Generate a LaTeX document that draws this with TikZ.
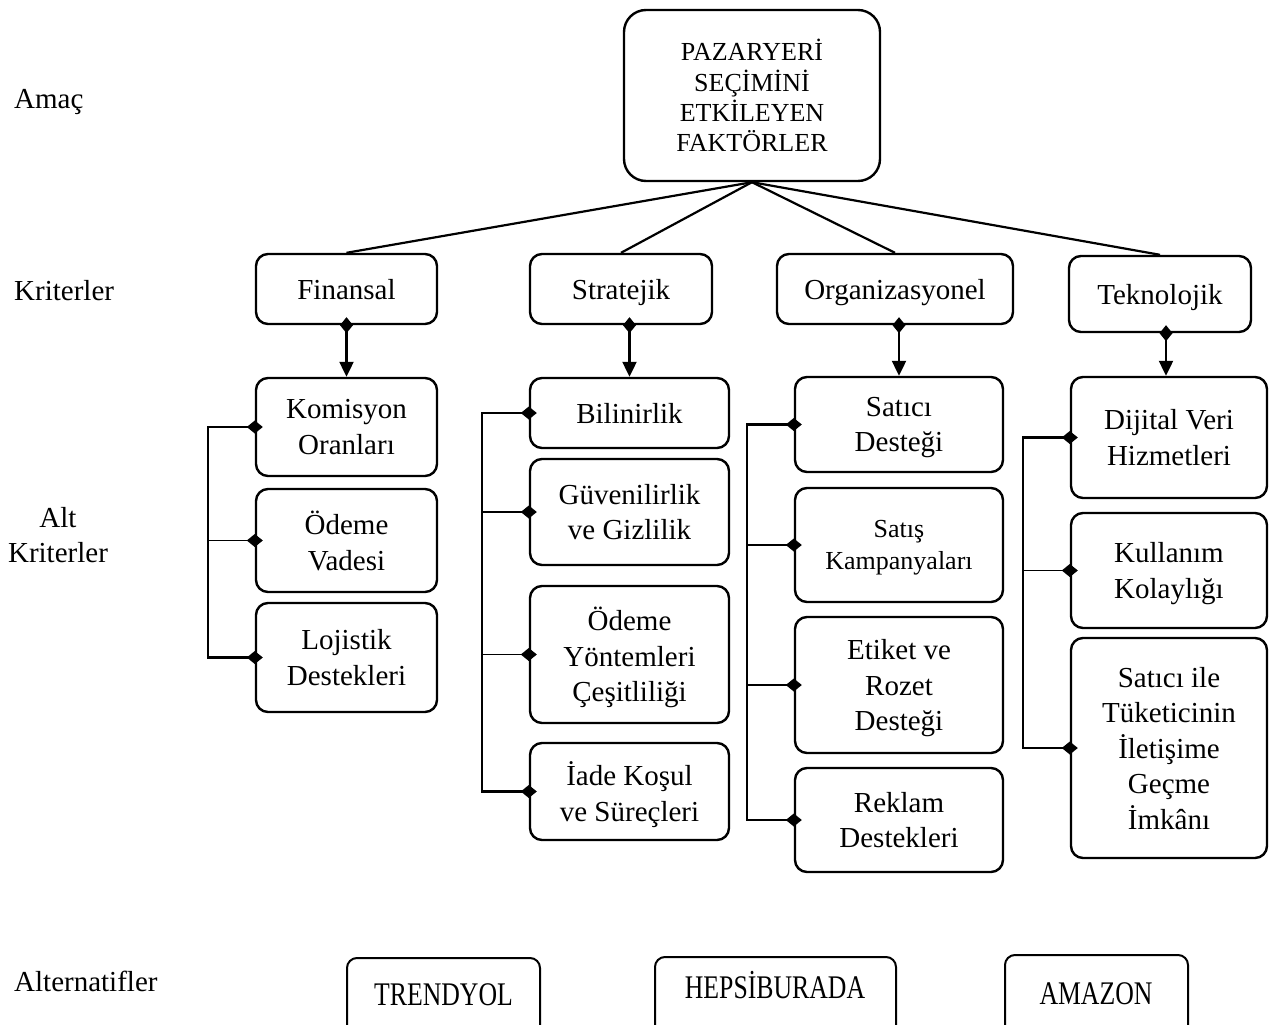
\documentclass[tikz,border=0pt]{standalone}
\usepackage{fontspec}
\setmainfont{Liberation Serif}
\newfontfamily\altfont[FakeStretch=0.78]{Liberation Serif}
\usetikzlibrary{arrows.meta}
\begin{document}
\begin{tikzpicture}[x=1pt,y=-1pt,
  box/.style={draw, line width=2.4pt, rounded corners=12pt, align=center, inner sep=0pt,
              text depth=0pt, font=\fontsize{29}{35.5}\selectfont},
  lab/.style={inner sep=0pt, font=\fontsize{29}{35}\selectfont},
  altbox/.style={draw, line width=2pt, rounded corners=10pt, inner sep=0pt},
  alttext/.style={inner sep=0pt, anchor=base, font=\altfont\fontsize{33}{38}\selectfont},
  topline/.style={line width=2.2pt},
  conn/.style={line width=2.2pt, {Diamond[length=16pt,width=13pt]}-{Triangle[length=15pt,width=14pt]}, shorten <=-8pt},
  brk/.style={line width=2.2pt, {Diamond[length=16pt,width=13pt]}-{Diamond[length=16pt,width=13pt]}, shorten <=-8pt, shorten >=-8pt},
  brkmid/.style={line width=1.1pt, -{Diamond[length=16pt,width=13pt]}, shorten >=-8pt},
]
\useasboundingbox (0,0) rectangle (1272,1025);
\clip (0,0) rectangle (1272,1025);

% level labels
\node[lab, anchor=base west] (lAmac) at (14,108) {Amaç};
\node[lab, anchor=base west] (lKrit) at (14,300) {Kriterler};
\node[lab, anchor=base] (lAlt1) at (58,527) {Alt};
\node[lab, anchor=base] (lAlt2) at (58,562) {Kriterler};
\node[lab, anchor=base west] (lAltern) at (14,991) {Alternatifler};

% goal
\node[box, rounded corners=22pt, minimum width=256pt, minimum height=171pt,
      font=\fontsize{26}{30.3}\selectfont] (goal) at (752,95.5)
      {PAZARYERİ\\SEÇİMİNİ\\ETKİLEYEN\\FAKTÖRLER};

% criteria
\node[box, minimum width=181pt, minimum height=70pt] (fin) at (346.5,289) {Finansal};
\node[box, minimum width=182pt, minimum height=70pt] (str) at (621,289) {Stratejik};
\node[box, minimum width=236pt, minimum height=70pt] (org) at (895,289) {Organizasyonel};
\node[box, minimum width=182pt, minimum height=76pt] (tek) at (1160,294) {Teknolojik};

% sub-criteria: Finansal
\node[box, minimum width=181pt, minimum height=98pt]  (kom) at (346.5,427)   {Komisyon\\Oranları};
\node[box, minimum width=181pt, minimum height=103pt] (vad) at (346.5,540.5) {Ödeme\\Vadesi};
\node[box, minimum width=181pt, minimum height=109pt] (loj) at (346.5,657.5) {Lojistik\\Destekleri};

% sub-criteria: Stratejik
\node[box, minimum width=199pt, minimum height=70pt]  (bil) at (629.5,413)   {Bilinirlik};
\node[box, minimum width=199pt, minimum height=106pt] (guv) at (629.5,512)   {Güvenilirlik\\ve Gizlilik};
\node[box, minimum width=199pt, minimum height=137pt] (ody) at (629.5,654.5) {Ödeme\\Yöntemleri\\Çeşitliliği};
\node[box, minimum width=199pt, minimum height=97pt]  (iad) at (629.5,791.5) {İade Koşul\\ve Süreçleri};

% sub-criteria: Organizasyonel
\node[box, minimum width=208pt, minimum height=95pt]  (sd) at (899,424.5) {Satıcı\\Desteği};
\node[box, minimum width=208pt, minimum height=114pt, font=\fontsize{26}{32}\selectfont]
      (sk) at (899,545) {Satış\\Kampanyaları};
\node[box, minimum width=208pt, minimum height=136pt] (er) at (899,685) {Etiket ve\\Rozet\\Desteği};
\node[box, minimum width=208pt, minimum height=104pt] (rd) at (899,820) {Reklam\\Destekleri};

% sub-criteria: Teknolojik
\node[box, minimum width=196pt, minimum height=121pt] (dv) at (1169,437.5) {Dijital Veri\\Hizmetleri};
\node[box, minimum width=196pt, minimum height=115pt] (kk) at (1169,570.5) {Kullanım\\Kolaylığı};
\node[box, minimum width=196pt, minimum height=220pt] (si) at (1169,748)   {Satıcı ile\\Tüketicinin\\İletişime\\Geçme\\İmkânı};

% alternatives (boxes run past the bottom edge)
\node[altbox, minimum width=193pt, minimum height=100pt] (tr) at (443.5,1008) {};
\node[altbox, minimum width=241pt, minimum height=100pt] (hb) at (775.5,1007) {};
\node[altbox, minimum width=183pt, minimum height=100pt] (am) at (1096.5,1005) {};
\node[alttext] (trT) at (443.5,1005) {TRENDYOL};
\node[alttext] (hbT) at (775,998) {HEPSİBURADA};
\node[alttext] (amT) at (1096,1004) {AMAZON};

% goal -> criteria
\draw[topline] (goal.south) -- (fin.north);
\draw[topline] (goal.south) -- (str.north);
\draw[topline] (goal.south) -- (org.north);
\draw[topline] (goal.south) -- (tek.north);

% criteria -> first sub-criterion
\draw[conn] (kom.north |- fin.south) -- (kom.north);
\draw[conn] (bil.north |- str.south) -- (bil.north);
\draw[conn] (sd.north |- org.south) -- (sd.north);
\draw[conn] ([xshift=-3pt]dv.north |- tek.south) -- ([xshift=-3pt]dv.north);

% brackets
\coordinate (fb) at (208,0);
\coordinate (sb) at (482,0);
\coordinate (ob) at (747,0);
\coordinate (tb) at (1023,0);

\draw[brk] (kom.west) -- (kom.west -| fb) -- (loj.west -| fb) -- (loj.west);
\draw[brkmid] (vad.west -| fb) -- (vad.west);

\draw[brk] (bil.west) -- (bil.west -| sb) -- (iad.west -| sb) -- (iad.west);
\draw[brkmid] (guv.west -| sb) -- (guv.west);
\draw[brkmid] (ody.west -| sb) -- (ody.west);

\draw[brk] (sd.west) -- (sd.west -| ob) -- (rd.west -| ob) -- (rd.west);
\draw[brkmid] (sk.west -| ob) -- (sk.west);
\draw[brkmid] (er.west -| ob) -- (er.west);

\draw[brk] (dv.west) -- (dv.west -| tb) -- (si.west -| tb) -- (si.west);
\draw[brkmid] (kk.west -| tb) -- (kk.west);
\end{tikzpicture}
\end{document}
